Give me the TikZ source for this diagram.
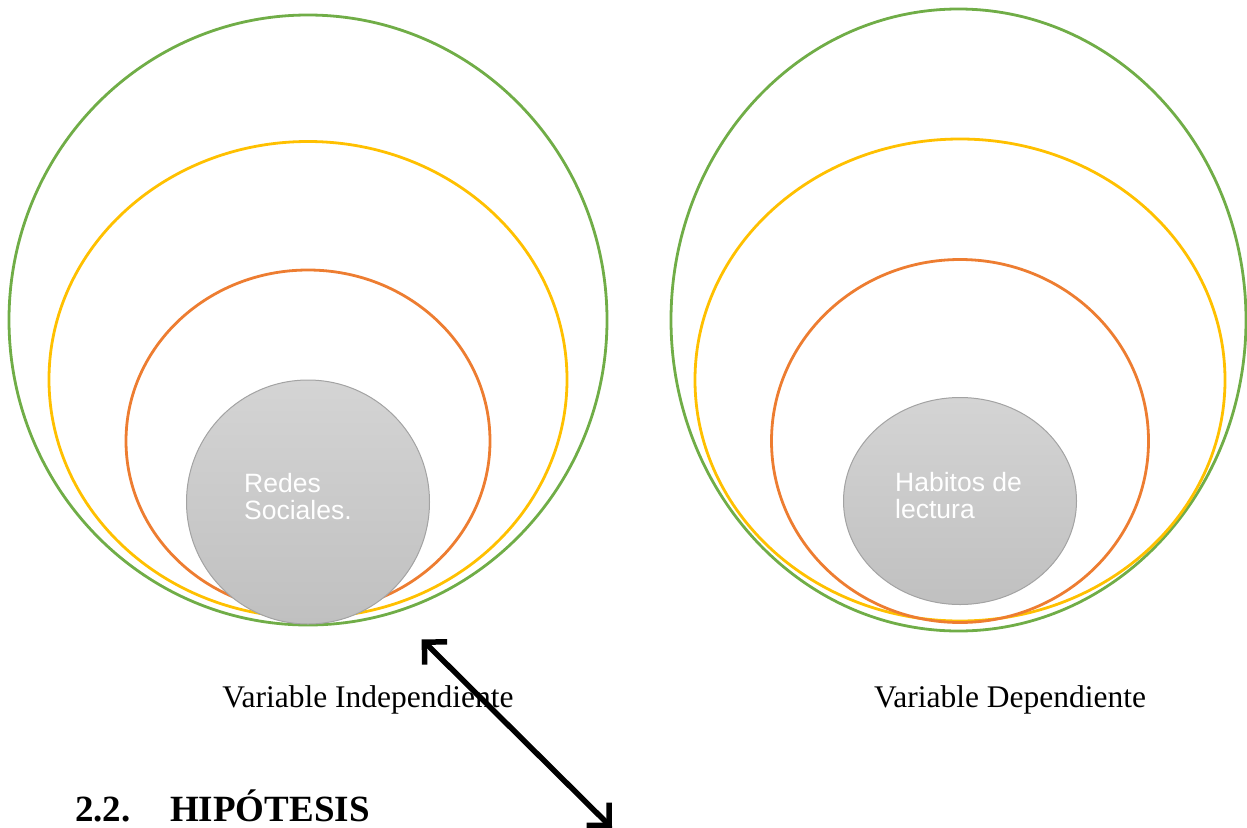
\documentclass[tikz,border=0pt]{standalone}
\usepackage{fontspec}
\setmainfont{Liberation Serif}
\newfontfamily\arialfont{Liberation Sans}
\usetikzlibrary{shapes.geometric,arrows.meta}
\definecolor{ringgreen}{HTML}{70AD47}
\definecolor{ringyellow}{HTML}{FFC000}
\definecolor{ringorange}{HTML}{ED7D31}
\definecolor{coretop}{HTML}{D4D4D4}
\definecolor{corebot}{HTML}{C0C0C0}
\definecolor{coreline}{HTML}{A3A3A3}
\tikzset{
  ring/.style={ellipse, inner sep=0pt, outer sep=0pt, line width=2.8pt},
  core/.style={ellipse, inner sep=0pt, outer sep=0pt, draw=coreline, line width=1pt,
               top color=coretop, bottom color=corebot},
  coretext/.style={anchor=base west, inner sep=0pt, align=left, text=white,
               font=\arialfont\fontsize{26.5}{27}\selectfont},
  varlabel/.style={anchor=base, inner sep=0pt, font=\fontsize{31.5}{36}\selectfont},
  headtext/.style={anchor=base west, inner sep=0pt, font=\bfseries\fontsize{37}{42}\selectfont},
  dblarrow/.style={line width=5.5pt, line join=round, line cap=round,
    {Straight Barb[length=16pt,width=32pt]}-{Straight Barb[length=16pt,width=32pt]}}
}
\begin{document}
\begin{tikzpicture}[x=1pt,y=-1pt]
\useasboundingbox (0,0) rectangle (1247,827);
% left group
\node[ring, draw=ringgreen, minimum width=598pt, minimum height=610pt] (lg) at (308,320) {};
\node[ring, draw=ringyellow, minimum width=518pt, minimum height=476pt] (ly) at (308,379.5) {};
\node[ring, draw=ringorange, minimum width=364pt, minimum height=342pt] (lo) at (308,441) {};
\node[core, minimum width=243pt, minimum height=244pt] (lc) at (308,502) {};
\node[coretext] (lct) at (244,519) {Redes\\Sociales.};
% right group
\node[ring, draw=ringgreen, minimum width=575pt, minimum height=622pt] (rg) at (958.5,320) {};
\node[ring, draw=ringyellow, minimum width=530pt, minimum height=482pt] (ry) at (960,380) {};
\node[ring, draw=ringorange, minimum width=377pt, minimum height=363pt] (ro) at (960,441) {};
\node[core, minimum width=233pt, minimum height=207pt] (rc) at (960,501) {};
\node[coretext] (rct) at (895,518) {Habitos de\\lectura};
% labels
\node[varlabel] (lv) at (368,707) {Variable Independiente};
\node[varlabel] (rv) at (1010,707) {Variable Dependiente};
\node[headtext] (hn) at (75,821) {2.2.};
\node[headtext] (ht) at (170,821) {HIPÓTESIS};
% arrow
\coordinate (atop) at (421.7,639.3);
\coordinate (abot) at (612,828);
\draw[dblarrow] (atop) -- (abot);
\end{tikzpicture}
\end{document}
